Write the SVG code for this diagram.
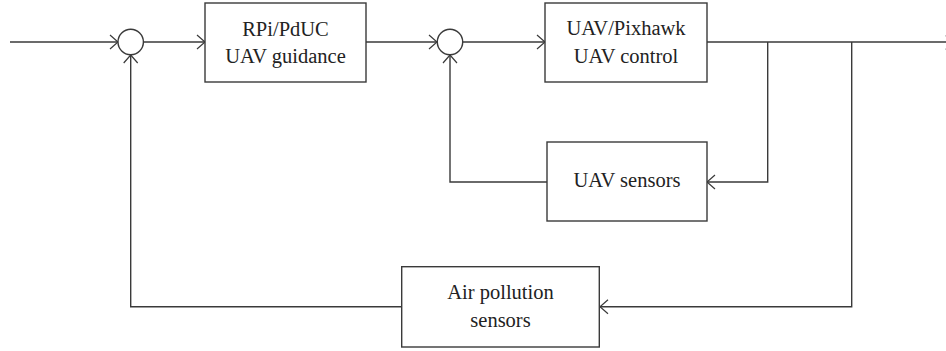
<svg xmlns="http://www.w3.org/2000/svg" width="946" height="351" viewBox="0 0 946 351">
<style>
.box{fill:#fff;stroke:#3a3a3a;stroke-width:1.4}
.sum{fill:#fff;stroke:#3a3a3a;stroke-width:1.4}
.ln{fill:none;stroke:#3a3a3a;stroke-width:1.4}
.ar{fill:none;stroke:#3a3a3a;stroke-width:1.2}
.t{font-size:20.5px;fill:#222;text-anchor:middle}
</style>
<rect width="946" height="351" fill="#fff"/>
<g id="connectors">
<path class="ln" d="M10 42H118"/>
<path class="ar" d="M110 35L118 42L110 49"/>
<path class="ln" d="M143.5 42H205"/>
<path class="ar" d="M197 35L205 42L197 49"/>
<path class="ln" d="M366 42H437"/>
<path class="ar" d="M429 35L437 42L429 49"/>
<path class="ln" d="M463 42H545"/>
<path class="ar" d="M537 35L545 42L537 49"/>
<path class="ln" d="M707 42H946"/>
<path class="ar" d="M945.7 35.5L953.7 42.5L945.7 49.5"/>
<path class="ln" d="M767.7 42V182H707"/>
<path class="ar" d="M715 175L707 182L715 189"/>
<path class="ln" d="M547 182H450V55"/>
<path class="ar" d="M443 63L450 55L457 63"/>
<path class="ln" d="M851.7 42V306.7H600"/>
<path class="ar" d="M608 299.7L600 306.7L608 313.7"/>
<path class="ln" d="M401.7 306.7H130.7V55"/>
<path class="ar" d="M123.7 63L130.7 55L137.7 63"/>
</g>
<g id="sum1"><circle class="sum" cx="130.7" cy="42" r="12.7"/></g>
<g id="sum2"><circle class="sum" cx="450" cy="42" r="12.7"/></g>
<g id="guidance" font-family="'Liberation Serif', 'DejaVu Serif', serif">
<rect class="box" x="205" y="3" width="161" height="79"/>
<text class="t" x="285.5" y="35.5">RPi/PdUC</text>
<text class="t" x="285.5" y="63">UAV guidance</text>
</g>
<g id="control" font-family="'Liberation Serif', 'DejaVu Serif', serif">
<rect class="box" x="545" y="3" width="162" height="79"/>
<text class="t" x="626" y="35">UAV/Pixhawk</text>
<text class="t" x="626" y="63">UAV control</text>
</g>
<g id="uav-sensors" font-family="'Liberation Serif', 'DejaVu Serif', serif">
<rect class="box" x="547" y="142" width="160" height="79"/>
<text class="t" x="627" y="187">UAV sensors</text>
</g>
<g id="air-sensors" font-family="'Liberation Serif', 'DejaVu Serif', serif">
<rect class="box" x="401.7" y="266.7" width="197.6" height="80.3"/>
<text class="t" x="500.5" y="299">Air pollution</text>
<text class="t" x="500.5" y="326.5">sensors</text>
</g>
</svg>
